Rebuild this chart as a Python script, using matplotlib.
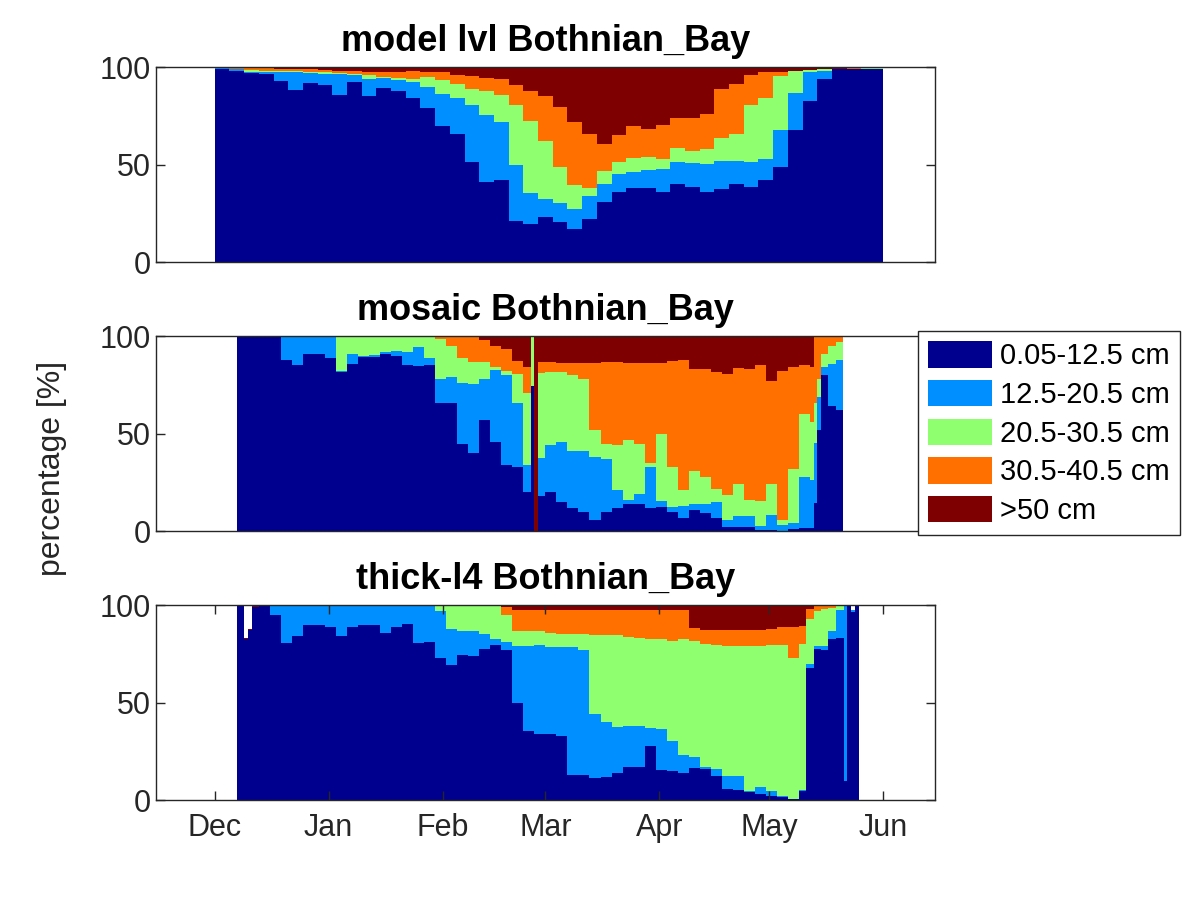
import matplotlib
matplotlib.use("Agg")
import matplotlib.pyplot as plt
from matplotlib.patches import Patch
import numpy as np

plt.rcParams['font.family'] = ['Liberation Sans', 'DejaVu Sans']

# days counted from 1 Dec; each *_cumN list is the cumulative share [%]
# of ice up to the N-th thickness class, one value per interval between edges
classes = ['0.05-12.5 cm', '12.5-20.5 cm', '20.5-30.5 cm', '30.5-40.5 cm', '>50 cm']
colors = ['#00008F', '#008FFF', '#8FFF70', '#FF7000', '#7F0000']
month_days = [0, 31, 62, 90, 121, 151, 182]
month_names = ['Dec', 'Jan', 'Feb', 'Mar', 'Apr', 'May', 'Jun']

model_edges = list(range(0, 181, 4)) + [182]
model_cum1 = [99, 98, 97, 96.4, 93, 88.5, 92, 91, 85.7, 92.5, 85.5, 89.5, 88, 84, 79, 70,
              66, 51.5, 41, 42, 21, 19.5, 23.3, 20.5, 17, 22, 31, 36, 38, 38, 36, 40,
              38.5, 36, 37.8, 40, 38.6, 42, 49, 68, 82.5, 94, 99, 99, 99, 99]
model_cum2 = [99.5, 99, 97.3, 97.3, 97.3, 97.3, 97, 96.4, 96.4, 96, 94, 94.4, 93.5, 92.5,
              90, 86.2, 84, 80.5, 75.7, 72, 50, 35.5, 32.5, 30.5, 27.5, 34, 40, 45, 46.5,
              47.5, 48, 51.4, 51, 50.5, 52, 52, 51.5, 53, 68, 87, 97.3, 98, 99, 99, 99, 99]
model_cum3 = [99.7, 99.3, 98.5, 98.1, 98, 98, 97.7, 97.5, 97, 96.4, 95.8, 94.8, 94.3, 94,
              95, 93.2, 91.5, 89, 88, 86, 80.5, 72.5, 62, 49, 39.5, 38, 47, 51.5, 53.5,
              54, 53, 58.5, 57, 58, 63.5, 66, 80.5, 84, 95.5, 98, 98.6, 99, 99, 99.2,
              99.5, 99.5]
model_cum4 = [100, 99.8, 99.6, 99.4, 99.3, 99.2, 99, 98.8, 98.2, 98, 97.8, 97.6, 97.4, 98,
              97.6, 97.3, 96.2, 95.6, 94.5, 93.9, 91, 87.8, 85, 79.5, 72, 66, 60.5, 65.5,
              70, 68.5, 70.5, 74, 74, 76, 88.6, 91.5, 96.2, 97.3, 97.8, 98.2, 98.6, 99,
              99.2, 99.4, 99.6, 99.7]

mosaic_edges = [6, 9, 12, 15, 18, 21, 24, 27, 30, 33, 36, 39, 42, 45, 48, 51, 54, 57, 60,
                63, 66, 69, 72, 75, 78, 81, 84, 86, 87, 88, 90, 93, 96, 99, 102, 105, 108,
                111, 114, 117, 120, 123, 126, 129, 132, 135, 138, 141, 144, 147, 150, 153,
                156, 159, 162, 163, 164, 165, 167, 169, 171]
mosaic_cum1 = [100, 100, 100, 100, 88, 85.5, 91, 91, 89, 81.5, 86, 89.5, 89.5, 90.8, 89.7,
               85.2, 84.5, 85, 66, 66, 45, 40, 57, 46, 34, 33, 20, 74.6, 0, 18, 20, 15, 12,
               10, 6, 10, 12, 14, 14, 12, 12.7, 10, 6.7, 11, 9.5, 7, 2.4, 2.4, 2.4, 0.7,
               0.7, 0.2, 1, 1.5, 1.5, 14.4, 52, 80, 64, 62]
mosaic_cum2 = [100, 100, 100, 100, 100, 100, 100, 100, 100, 82, 91, 90, 90.5, 92, 92.5, 92,
               94.5, 89, 78, 79, 76, 75.3, 78, 82.5, 80, 66, 34, 74.6, 0, 37.5, 44, 46, 41,
               41, 38, 37.2, 21, 16, 19, 33, 15.3, 12.7, 13, 14, 14, 15, 6, 8, 7.6, 2.9,
               8.4, 3, 4, 28, 26.5, 45.4, 68.6, 84, 85.7, 88]
mosaic_cum3 = [100, 100, 100, 100, 100, 100, 100, 100, 100, 100, 100, 100, 100, 100, 100,
               100, 100, 100, 98.5, 95, 89, 87, 87, 84, 82, 80.6, 71, 100, 0, 81, 81.5,
               81.5, 80, 78, 52, 44.5, 44, 47, 45, 35, 50, 33, 21.3, 31, 28, 21.8, 18.5, 24,
               16.2, 15.3, 24, 6, 32, 60, 56, 66, 78, 91, 95, 97]
mosaic_cum4 = [100, 100, 100, 100, 100, 100, 100, 100, 100, 100, 100, 100, 100, 100, 100,
               100, 100, 100, 100, 100, 100, 100, 98, 95, 93.5, 87.5, 84, 100, 0, 87, 87,
               86.5, 86.5, 86.5, 86.5, 87, 87, 86.5, 86.5, 86.5, 86.5, 87.5, 88, 83, 83,
               81.5, 80.5, 83.5, 83, 85, 77, 82, 84, 85, 84, 99.5, 99.5, 99.5, 99.5, 99.7]

thick_edges = [6, 8, 9, 10, 12, 15, 18, 21, 24, 27, 30, 33, 36, 39, 42, 45, 48, 51, 54, 57,
               60, 63, 66, 69, 72, 75, 78, 81, 84, 87, 90, 93, 96, 99, 102, 105, 108, 111,
               114, 117, 120, 123, 126, 129, 132, 135, 138, 141, 144, 147, 150, 153, 156,
               159, 161, 163, 165, 167, 169, 171.3, 172.2, 173.3, 174.2, 175.4]
thick_cum1 = [100, 82.6, 87.5, 99, 100, 95, 80.5, 84, 90, 90, 88.7, 84, 89, 90, 90, 86, 89,
              90.2, 80.5, 81, 73, 69.5, 74.5, 74, 77.5, 79.5, 77, 50, 35.5, 34, 34, 33, 13,
              13, 11.5, 12, 14, 17, 17, 28, 15.3, 14.8, 13.9, 16.5, 16, 12.5, 6, 5.3, 4.4,
              3.3, 2.2, 1.9, 0.5, 5, 68, 77.5, 77, 82.5, 83, 10, 99.5, 96.4, 100]
thick_cum2 = [100, 82.6, 87.5, 99, 100, 100, 100, 100, 100, 100, 100, 100, 100, 100, 100,
              100, 100, 100, 100, 100, 97, 87.6, 86.9, 86.9, 85.5, 82.5, 81, 79.2, 79.2,
              79.5, 78.5, 78.5, 78.5, 77, 44, 40, 37.5, 38, 38, 37.3, 36.5, 30.2, 23, 22,
              17.3, 16, 12.2, 12.4, 4.8, 7, 5, 2, 0.8, 5.5, 70, 79.2, 79.2, 87, 97.5, 99.5,
              99.6, 97.7, 100]
thick_cum3 = [100, 82.6, 87.5, 99, 100, 100, 100, 100, 100, 100, 100, 100, 100, 100, 100,
              100, 100, 100, 100, 100, 100, 100, 100, 100, 100, 100, 95, 87, 87, 87, 86,
              85.3, 85.3, 85.3, 85, 85, 85, 83.8, 83, 82.6, 82.6, 81.5, 82.6, 81.5, 80,
              79.5, 79.2, 79.2, 79.2, 79.2, 79.7, 79.7, 73, 80, 93, 97, 98, 98.5, 99.5,
              99.5, 99.7, 97.7, 100]
thick_cum4 = [100, 82.6, 87.5, 99, 100, 100, 100, 100, 100, 100, 100, 100, 100, 100, 100,
              100, 100, 100, 100, 100, 100, 100, 100, 100, 100, 100, 99, 97.8, 97.8, 97.8,
              97.8, 97.8, 97.8, 97.8, 97.8, 97.8, 97.8, 97.8, 97.8, 97.8, 97.8, 97.8, 97.5,
              88.5, 87.3, 87.3, 87.3, 87.3, 87.3, 87.3, 88, 89, 89, 89.5, 98, 99.8, 99.8,
              99.8, 99.8, 99.7, 99.8, 97.7, 100]
# total covered share (below 100 where the product has gaps)
thick_total = [100, 83, 88, 99.5] + [100] * 57 + [97.7, 100]

panels = [
    ('model lvl Bothnian_Bay', model_edges,
     [model_cum1, model_cum2, model_cum3, model_cum4], None),
    ('mosaic Bothnian_Bay', mosaic_edges,
     [mosaic_cum1, mosaic_cum2, mosaic_cum3, mosaic_cum4], None),
    ('thick-l4 Bothnian_Bay', thick_edges,
     [thick_cum1, thick_cum2, thick_cum3, thick_cum4], thick_total),
]

fig = plt.figure(figsize=(12, 9), dpi=100)
bottoms = [0.7086, 0.4097, 0.1108]
axes = []
for (title, edges, cums, total), b in zip(panels, bottoms):
    ax = fig.add_axes([0.13, b, 0.649, 0.2167])
    if total is None:
        total = [100] * len(cums[0])
    uppers = cums + [total]
    lowers = [np.zeros(len(total))] + cums
    for lo, up, c in zip(lowers, uppers, colors):
        ax.stairs(up, edges, baseline=lo, fill=True, color=c,
                  linewidth=0, antialiased=False)
    ax.set_xlim(-16, 196)
    ax.set_ylim(0, 100)
    ax.set_yticks([0, 50, 100])
    ax.set_title(title, fontsize=26, fontweight='bold', pad=12)
    ax.tick_params(direction='in', length=6.5, width=1, labelsize=22,
                   top=True, right=True, colors='#262626')
    for s in ax.spines.values():
        s.set_color('#262626')
        s.set_linewidth(1)
    axes.append(ax)

axes[0].set_xticks([])
axes[1].set_xticks([])
axes[2].set_xticks(month_days)
axes[2].set_xticklabels(month_names)
axes[2].tick_params(axis='x', pad=9)

fig.text(0.043, 0.48, 'percentage [%]', rotation=90, fontsize=23,
         ha='center', va='center', color='#262626')

handles = [Patch(facecolor=c, edgecolor='none') for c in colors]
leg = fig.legend(handles, classes, loc='upper left', bbox_to_anchor=(0.765, 0.632),
                 borderaxespad=0, fontsize=21, frameon=True, fancybox=False,
                 framealpha=1, edgecolor='#262626', handlelength=2.2,
                 handleheight=1.0, labelspacing=0.33, borderpad=0.35,
                 handletextpad=0.25)
leg.get_frame().set_linewidth(1)
leg.set_zorder(10)

fig.savefig('out.png', dpi=100)
